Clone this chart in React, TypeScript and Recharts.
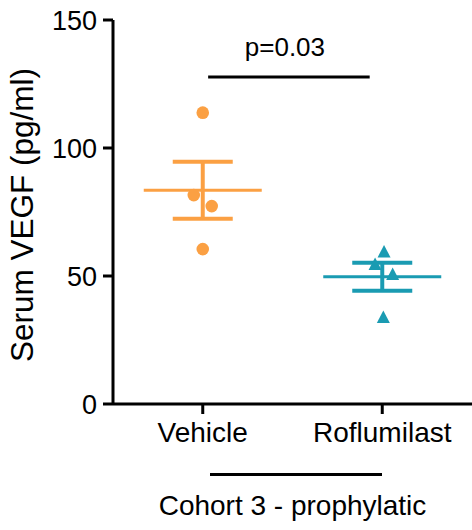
import React from "react";
import {
  ScatterChart,
  Scatter,
  XAxis,
  YAxis,
  ErrorBar,
  ReferenceLine,
  Label,
} from "recharts";

const categories = ["Vehicle", "Roflumilast"];
const vehicleValues = [113.8, 81.6, 77.3, 60.5];
const roflumilastValues = [59.6, 54.7, 50.8, 34.0];
// horizontal scatter of the dots around each category, in category units
const vehicleJitter = [0, -0.05, 0.05, 0];
const roflumilastJitter = [0.01, -0.04, 0.058, 0.006];
const groupMeans = [83.5, 49.7];
const groupSems = [11.1, 5.5];
const yTicks = [0, 50, 100, 150];
const pValueText = "p=0.03";
const groupTitle = "Cohort 3 - prophylatic";

const ORANGE = "#FBA043";
const TEAL = "#1A9BB2";
const FONT = "'Liberation Sans', Arial, sans-serif";

const vehicleData = vehicleValues.map((v, i) => ({ x: 0 + vehicleJitter[i], y: v }));
const roflumilastData = roflumilastValues.map((v, i) => ({ x: 1 + roflumilastJitter[i], y: v }));
const vehicleMean = [{ x: 0, y: groupMeans[0], sem: groupSems[0] }];
const roflumilastMean = [{ x: 1, y: groupMeans[1], sem: groupSems[1] }];

const meanLine = (color: string) => (props: any) => (
  <line
    x1={props.cx - 59}
    x2={props.cx + 59}
    y1={props.cy}
    y2={props.cy}
    stroke={color}
    strokeWidth={3}
  />
);

const Dot = (props: any) => <circle cx={props.cx} cy={props.cy} r={6.3} fill={ORANGE} />;

const Triangle = (props: any) => {
  const { cx, cy } = props;
  return (
    <path
      d={`M${cx},${cy - 6.5} L${cx + 6.5},${cy + 6} L${cx - 6.5},${cy + 6} Z`}
      fill={TEAL}
    />
  );
};

const YTitle = (props: any) => {
  const { viewBox } = props;
  const bx = 33;
  const cy = viewBox.y + viewBox.height / 2 + 3;
  return (
    <text
      x={bx}
      y={cy}
      transform={`rotate(-90, ${bx}, ${cy})`}
      textAnchor="middle"
      fontSize={31.5}
      fontFamily={FONT}
      fill="#000"
    >
      Serum VEGF (pg/ml)
    </text>
  );
};

const GroupLabel = (props: any) => {
  const { viewBox } = props;
  const { x, y, width } = viewBox;
  return (
    <g>
      <line x1={x + 97} x2={x + 269} y1={y + 70.5} y2={y + 70.5} stroke="#000" strokeWidth={3} />
      <text
        x={x + width / 2}
        y={y + 111}
        textAnchor="middle"
        fontSize={28}
        fontFamily={FONT}
        fill="#000"
      >
        {groupTitle}
      </text>
    </g>
  );
};

export default function App() {
  return (
    <div style={{ position: "absolute", left: 0, top: 0, background: "#fff" }}>
      <ScatterChart
        width={472}
        height={530}
        margin={{ top: 20, right: 0, bottom: 0, left: 0 }}
        style={{ fontFamily: FONT }}
      >
        <XAxis
          type="number"
          dataKey="x"
          domain={[-0.5, 1.5]}
          ticks={[0, 1]}
          tickFormatter={(v: number) => categories[v] ?? ""}
          height={126}
          axisLine={{ stroke: "#000", strokeWidth: 3 }}
          tickLine={{ stroke: "#000", strokeWidth: 3 }}
          tickSize={10}
          tickMargin={8}
          tick={{ fill: "#000", fontSize: 28 }}
        >
          <Label content={GroupLabel} />
        </XAxis>
        <YAxis
          type="number"
          dataKey="y"
          domain={[0, 150]}
          ticks={yTicks}
          width={113}
          axisLine={{ stroke: "#000", strokeWidth: 3 }}
          tickLine={{ stroke: "#000", strokeWidth: 3 }}
          tickSize={10}
          tickMargin={6}
          tick={{ fill: "#000", fontSize: 27 }}
        >
          <Label content={YTitle} />
        </YAxis>
        <ReferenceLine
          segment={[
            { x: 0.03, y: 127.7 },
            { x: 0.93, y: 127.7 },
          ]}
          stroke="#000"
          strokeWidth={3}
          ifOverflow="visible"
        >
          <Label value={pValueText} position="top" offset={21} dx={-4} fontSize={26} fill="#000" />
        </ReferenceLine>
        <Scatter data={vehicleMean} shape={meanLine(ORANGE)} isAnimationActive={false}>
          <ErrorBar dataKey="sem" direction="y" width={30} strokeWidth={4} stroke={ORANGE} />
        </Scatter>
        <Scatter data={roflumilastMean} shape={meanLine(TEAL)} isAnimationActive={false}>
          <ErrorBar dataKey="sem" direction="y" width={30} strokeWidth={4} stroke={TEAL} />
        </Scatter>
        <Scatter data={vehicleData} shape={Dot} isAnimationActive={false} />
        <Scatter data={roflumilastData} shape={Triangle} isAnimationActive={false} />
      </ScatterChart>
    </div>
  );
}
